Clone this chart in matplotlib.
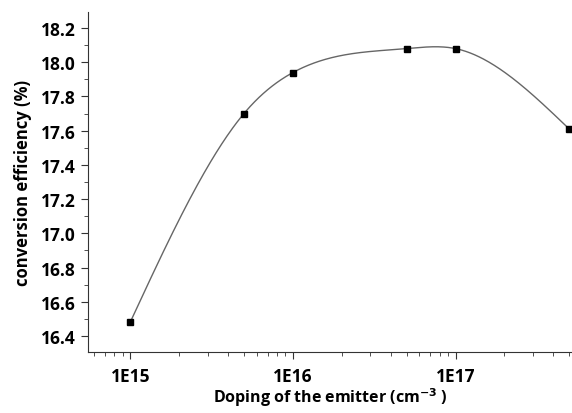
import numpy as np
import matplotlib.pyplot as plt
import matplotlib.ticker as ticker

# data
doping = [1e15, 5e15, 1e16, 5e16, 1e17, 5e17]
efficiency = [16.48, 17.70, 17.94, 18.08, 18.08, 17.61]


def natural_spline(x, y, xs):
    x = np.asarray(x, float)
    y = np.asarray(y, float)
    n = len(x)
    h = np.diff(x)
    A = np.zeros((n, n))
    b = np.zeros(n)
    A[0, 0] = A[-1, -1] = 1
    for i in range(1, n - 1):
        A[i, i - 1] = h[i - 1]
        A[i, i] = 2 * (h[i - 1] + h[i])
        A[i, i + 1] = h[i]
        b[i] = 3 * ((y[i + 1] - y[i]) / h[i] - (y[i] - y[i - 1]) / h[i - 1])
    c = np.linalg.solve(A, b)
    out = np.empty_like(xs)
    for k, xv in enumerate(xs):
        i = min(max(np.searchsorted(x, xv) - 1, 0), n - 2)
        bb = (y[i + 1] - y[i]) / h[i] - h[i] * (2 * c[i] + c[i + 1]) / 3
        d = (c[i + 1] - c[i]) / (3 * h[i])
        t = xv - x[i]
        out[k] = y[i] + bb * t + c[i] * t ** 2 + d * t ** 3
    return out


plt.rcParams['font.family'] = ['Open Sans', 'DejaVu Sans']
plt.rcParams['font.weight'] = 'bold'

fig = plt.figure(figsize=(5.72, 4.14), dpi=100)
ax = fig.add_axes([0.1538, 0.1473, 0.8462, 0.8213])

lx = np.log10(doping)
xs = np.linspace(lx[0], lx[-1], 400)
ax.plot(10 ** xs, natural_spline(lx, efficiency, xs), color='#666666', lw=1.0)
ax.plot(doping, efficiency, 's', color='black', ms=5)

ax.set_xscale('log')
ax.set_xlim(5.5e14, 5.2e17)
ax.set_ylim(16.306, 18.294)
ax.xaxis.set_major_locator(ticker.FixedLocator([1e15, 1e16, 1e17]))
ax.xaxis.set_major_formatter(ticker.FixedFormatter(['1E15', '1E16', '1E17']))
ax.xaxis.set_minor_locator(ticker.LogLocator(base=10, subs=np.arange(2, 10), numticks=20))
ax.xaxis.set_minor_formatter(ticker.NullFormatter())
ax.yaxis.set_major_locator(ticker.MultipleLocator(0.2))
ax.yaxis.set_minor_locator(ticker.MultipleLocator(0.1))
ax.yaxis.set_major_formatter(ticker.FormatStrFormatter('%.1f'))

for s in ['top', 'right']:
    ax.spines[s].set_visible(False)
for s in ['left', 'bottom']:
    ax.spines[s].set_color('#333333')
ax.tick_params(which='major', direction='out', length=5, color='#333333', labelsize=12.5)
ax.tick_params(axis='x', which='major', pad=6)
ax.tick_params(axis='y', which='major', pad=4)
ax.tick_params(which='minor', direction='out', length=3, color='#333333')

ax.set_xlabel('Doping of the emitter (cm$^{\\mathbf{-3}}$ )', fontsize=11.5, fontweight='bold', labelpad=0)
ax.set_ylabel('conversion efficiency (%)', fontsize=12, fontweight='bold', labelpad=6)

fig.savefig('out.png', dpi=100)
